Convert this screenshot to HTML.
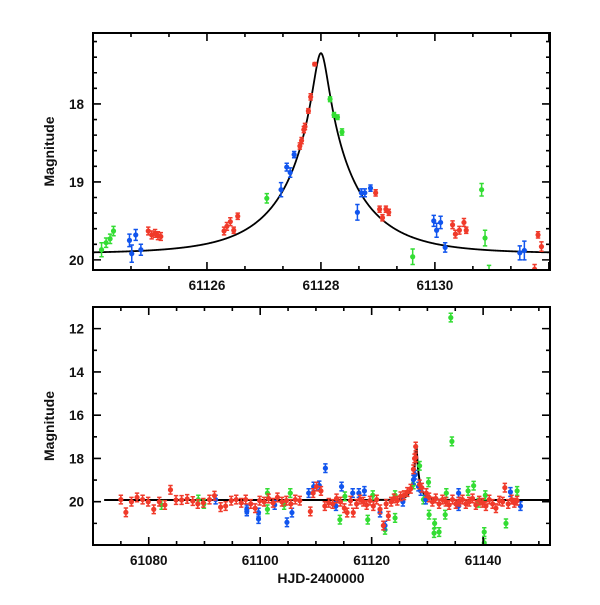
<!DOCTYPE html>
<html><head><meta charset="utf-8"><style>
body{margin:0;background:#fff}
svg text{font-family:"Liberation Sans",sans-serif;font-weight:bold;fill:#111}
</style></head><body>
<svg id="c" width="600" height="600" viewBox="0 0 600 600"></svg>
<script>
// ---- model parameters
const model_t0 = 61128.0, model_tE = 1.3, model_u0 = 0.094, model_base = 19.92;
// ---- top panel data (HJD-2400000, mag, err)
const topGreenT = [61124.15,61124.23,61124.30,61124.36,61127.05,61128.16,61128.23,61128.29,61128.37,61129.61,61130.82,61130.88,61130.95];
const topGreenM = [19.87,19.78,19.73,19.63,19.21,17.94,18.14,18.17,18.36,19.96,19.10,19.72,20.15];
const topGreenE = [0.09,0.06,0.06,0.06,0.06,0.03,0.03,0.03,0.04,0.10,0.08,0.10,0.08];
const topBlueT = [61124.64,61124.68,61124.75,61124.84,61127.30,61127.40,61127.46,61127.53,61128.64,61128.71,61128.77,61128.87,61129.98,61130.03,61130.10,61130.18,61131.49,61131.57];
const topBlueM = [19.75,19.92,19.68,19.87,19.10,18.81,18.88,18.65,19.39,19.14,19.14,19.08,19.50,19.62,19.52,19.84,19.91,19.88];
const topBlueE = [0.08,0.11,0.07,0.07,0.09,0.05,0.06,0.04,0.10,0.05,0.05,0.04,0.07,0.09,0.08,0.06,0.09,0.12];
const topRedT = [61124.97,61125.03,61125.09,61125.14,61125.19,61126.30,61126.35,61126.41,61126.47,61126.54,61127.63,61127.66,61127.70,61127.72,61127.78,61127.82,61127.89,61128.96,61129.03,61129.08,61129.14,61129.19,61130.31,61130.36,61130.43,61130.51,61130.55,61131.75,61131.81,61131.87];
const topRedM = [19.63,19.68,19.66,19.69,19.70,19.63,19.57,19.51,19.62,19.44,18.54,18.47,18.33,18.29,18.09,17.91,17.49,19.14,19.35,19.46,19.35,19.39,19.55,19.67,19.62,19.52,19.62,20.12,19.68,19.83];
const topRedE = [0.05,0.05,0.05,0.05,0.05,0.05,0.05,0.05,0.04,0.04,0.04,0.04,0.04,0.04,0.03,0.04,0.02,0.04,0.04,0.04,0.04,0.04,0.05,0.05,0.05,0.05,0.04,0.06,0.04,0.06];
// ---- bottom panel data
const botGreenT = [61082.3,61088.9,61089.9,61101.3,61101.3,61104.3,61105.4,61114.3,61115.2,61119.3,61120.2,61122.4,61124.2,61124.2,61127.5,61128.6,61129.3,61130.2,61130.3,61131.2,61131.3,61132.1,61133.2,61133.4,61134.2,61134.4,61137.3,61138.3,61139.2,61140.2,61140.2,61140.4,61144.1,61146.1];
const botGreenM = [20.15,19.9,20.1,20.35,19.6,20.15,19.6,20.83,19.75,20.83,19.7,21.3,20.75,19.7,19.2,18.34,19.9,19.1,20.6,21.45,21.0,21.4,20.6,19.6,11.49,17.21,19.5,19.26,20.05,21.4,21.9,19.7,21.0,19.5];
const botBlueT = [61092.0,61097.6,61097.6,61099.7,61099.7,61102.6,61104.8,61105.7,61108.7,61109.6,61110.6,61111.7,61113.6,61114.6,61116.6,61117.7,61118.7,61121.5,61122.4,61125.6,61127.5,61127.8,61128.4,61128.8,61129.7,61135.6,61135.6,61144.9,61146.7];
const botBlueM = [19.9,20.45,20.35,20.8,20.5,20.15,20.95,20.5,19.6,19.3,19.25,18.45,20.2,19.3,19.6,19.6,19.5,20.5,21.1,20.0,18.98,18.75,19.3,19.5,19.9,20.2,19.6,19.55,20.2];
const botRedT = [61075.0,61075.9,61076.9,61077.9,61078.9,61079.9,61080.9,61081.9,61082.9,61083.9,61084.9,61085.9,61086.9,61087.9,61088.8,61089.8,61090.9,61091.8,61092.9,61093.8,61094.8,61095.7,61096.6,61097.4,61098.3,61099.1,61099.9,61100.7,61101.5,61102.3,61103.1,61103.9,61104.7,61105.5,61106.3,61107.1,61109.0,61109.5,61110.1,61110.9,61111.6,61112.3,61113.0,61113.7,61114.4,61115.1,61115.6,61116.2,61116.7,61117.3,61117.9,61118.5,61119.1,61119.7,61120.3,61120.9,61121.5,61122.1,61122.6,61123.0,61123.5,61124.0,61124.6,61125.2,61125.8,61126.4,61127.0,61127.5,61127.7,61127.9,61127.9,61128.6,61129.0,61129.8,61130.3,61130.9,61131.5,61132.1,61132.7,61133.3,61133.9,61134.5,61135.1,61135.7,61136.3,61136.9,61137.5,61138.1,61138.7,61139.3,61139.9,61140.5,61141.1,61141.7,61142.3,61142.9,61143.5,61143.9,61144.5,61145.1,61145.6,61146.1];
const botRedM = [19.9,20.49,20.0,19.8,19.9,20.0,20.35,20.0,20.15,19.45,19.92,19.92,19.87,19.97,20.1,20.05,19.9,19.72,20.25,20.2,19.95,19.9,20.05,19.9,20.1,20.3,19.95,20.0,19.85,20.05,19.8,20.0,19.95,20.1,19.9,19.95,20.45,19.6,19.3,19.5,20.2,20.05,20.1,19.85,20.0,20.3,20.5,19.95,20.5,20.1,19.9,20.0,20.15,19.95,20.2,19.9,20.35,21.1,20.1,20.65,20.0,19.85,19.95,19.75,19.7,19.55,19.4,18.5,18.0,17.95,17.45,19.2,19.35,19.6,19.8,20.0,19.85,20.1,19.9,20.0,20.15,19.9,20.1,20.0,19.9,20.1,20.0,19.85,20.15,19.95,20.05,20.2,19.9,20.1,20.3,19.95,20.0,19.35,20.1,19.9,20.05,19.95];

const NS = "http://www.w3.org/2000/svg";
const svg = document.getElementById('c');
function mk(tag, attrs, parent){const e=document.createElementNS(NS,tag);for(const k in attrs)e.setAttribute(k,attrs[k]);(parent||svg).appendChild(e);return e;}
function model(t){const u=Math.sqrt(model_u0*model_u0+Math.pow((t-model_t0)/model_tE,2));const A=(u*u+2)/(u*Math.sqrt(u*u+4));return model_base-2.5*Math.log10(A);}
const COL={green:'#33dd33',blue:'#1155ee',red:'#f03a2a'};

function panel(name,P){
  const g=mk('g',{});
  
  
  const X=t=>P.x0+(t-P.tmin)/(P.tmax-P.tmin)*(P.x1-P.x0);
  const Y=m=>P.y0+(m-P.mmin)/(P.mmax-P.mmin)*(P.y1-P.y0);
  // clip
  const cid='clip'+name;
  const cp=mk('clipPath',{id:cid},g);mk('rect',{x:P.x0,y:P.y0,width:P.x1-P.x0,height:P.y1-P.y0},cp);
  const inner=mk('g',{'clip-path':'url(#'+cid+')'},g);
  // model curve
  let d='';const ts=P.lineStart;
  for(let i=0;i<=1500;i++){const t=ts+(P.tmax-ts)*i/1500;d+=(i?'L':'M')+X(t).toFixed(2)+' '+Y(model(t)).toFixed(2);}
  const ml=mk('path',{d:d,fill:'none',stroke:'#000','stroke-width':P.lw},inner);
  
  
  // series
  P.series.forEach(s=>{
    const sg=mk('g',{fill:COL[s.c],stroke:COL[s.c]},inner);
    
    
    s.t.forEach((t,i)=>{
      const e=s.e?s.e[i]:P.err, x=X(t), y=Y(s.m[i]), ya=Y(s.m[i]-e), yb=Y(s.m[i]+e);
      mk('path',{d:`M${x} ${ya}V${yb}M${x-2.2} ${ya}h4.4M${x-2.2} ${yb}h4.4`,'stroke-width':1.5,fill:'none'},sg);
      const c=mk('circle',{cx:x,cy:y,r:2.6,stroke:'none'},sg);
      
      
    });
  });
  // frame
  const fr=mk('rect',{x:P.x0,y:P.y0,width:P.x1-P.x0,height:P.y1-P.y0,fill:'none',stroke:'#000','stroke-width':2},g);
  
  
  // ticks
  let td='';
  const tk=(v0,step,len,axis)=>{for(let v=v0;v<=(axis=='x'?P.tmax:P.mmax)+1e-9;v+=step){
    if(axis=='x'){const x=X(v);if(x<P.x0+1||x>P.x1-1)continue;td+=`M${x} ${P.y1}v${-len}M${x} ${P.y0}v${len}`;}
    else{const y=Y(v);if(y<P.y0+1||y>P.y1-1)continue;td+=`M${P.x0} ${y}h${len}M${P.x1} ${y}h${-len}`;}}};
  tk(P.xminor0,P.xminor,4,'x');tk(P.xmaj0,P.xmaj,8,'x');tk(P.yminor0,P.yminor,4,'y');tk(P.ymaj0,P.ymaj,8,'y');
  mk('path',{d:td,stroke:'#000','stroke-width':1.6,fill:'none'},g);
  P.xlabels.forEach(v=>{const t=mk('text',{x:X(v),y:P.y1+20,'text-anchor':'middle','font-size':13.5},g);t.textContent=v;
    });
  P.ylabels.forEach(v=>{const t=mk('text',{x:P.x0-9,y:Y(v)+5,'text-anchor':'end','font-size':13.5},g);t.textContent=v;
    });
  const yl=mk('text',{x:0,y:0,transform:`translate(54 ${(P.y0+P.y1)/2}) rotate(-90)`,'text-anchor':'middle','font-size':14},g);
  yl.textContent='Magnitude';
  
}
panel('top-panel',{x0:93,x1:550,y0:33,y1:270,tmin:61124,tmax:61132.02,mmin:17.09,mmax:20.13,lineStart:61124,lw:1.8,err:0.06,
  xminor0:61124,xminor:2/3,xmaj0:61126,xmaj:2,yminor0:17.2,yminor:0.2,ymaj0:18,ymaj:1,xlabels:[61126,61128,61130],ylabels:[18,19,20],
  series:[{c:'green',t:topGreenT,m:topGreenM,e:topGreenE},{c:'blue',t:topBlueT,m:topBlueM,e:topBlueE},{c:'red',t:topRedT,m:topRedM,e:topRedE}]});
panel('bottom-panel',{x0:93,x1:550,y0:307,y1:545,tmin:61070,tmax:61152,mmin:11,mmax:22,lineStart:61072,lw:2,err:0.2,
  xminor0:61070,xminor:5,xmaj0:61080,xmaj:20,yminor0:11,yminor:1,ymaj0:12,ymaj:2,xlabels:[61080,61100,61120,61140],ylabels:[12,14,16,18,20],
  series:[{c:'green',t:botGreenT,m:botGreenM},{c:'blue',t:botBlueT,m:botBlueM},{c:'red',t:botRedT,m:botRedM}]});
const xt=mk('text',{x:321,y:583,'text-anchor':'middle','font-size':14});
xt.textContent='HJD-2400000';


</script>
</body></html>
